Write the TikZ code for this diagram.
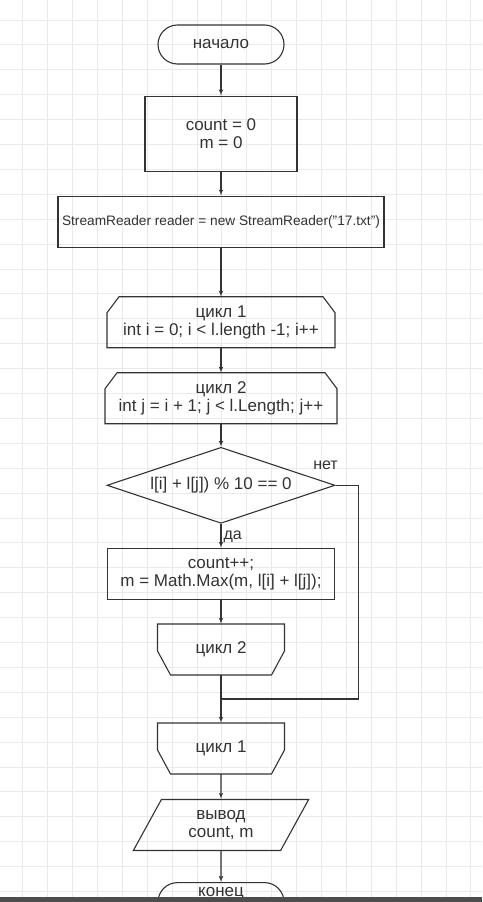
\documentclass[tikz,border=0pt]{standalone}
\usepackage{fontspec}
\setmainfont{Liberation Sans}
\usepackage{tikz}
\usetikzlibrary{shapes,arrows,positioning}
\definecolor{ink}{HTML}{333333}
\definecolor{gridline}{HTML}{EAEAEA}
\definecolor{bar}{HTML}{4D4D4D}
\tikzstyle{term} = [rectangle, draw, rounded corners=19.5pt, align=center,
    minimum width=126pt, minimum height=39pt, inner sep=0pt]
\tikzstyle{block} = [rectangle, draw, align=center, minimum height=51pt, inner sep=0pt]
\tikzstyle{cyclebox} = [rectangle, align=center, minimum height=51pt, inner sep=0pt, outer sep=0pt]
\tikzstyle{decision} = [diamond, draw, aspect=3, minimum width=228pt, minimum height=76pt, inner sep=0pt]
\tikzstyle{io} = [trapezium, trapezium left angle=62, trapezium right angle=118, trapezium stretches=true,
    draw, align=center, minimum width=176pt, minimum height=51pt, inner sep=0pt]
\tikzstyle{line} = [draw, -latex']
\begin{document}
\begin{tikzpicture}[x=1pt, y=-1pt, color=ink, line width=1.1pt,
    font=\fontsize{17}{17.5}\selectfont]
      \useasboundingbox (0,0) rectangle (482,902);
      % grid paper
      \fill [white] (0,0) rectangle (482,902);
      \foreach \gx in {0,...,18}
        \draw [gridline, line width=1pt] ({22.7+24.9*\gx},0) -- ({22.7+24.9*\gx},902);
      \foreach \gy in {0,...,35}
        \draw [gridline, line width=1pt] (0,{20+24.9*\gy}) -- (482,{20+24.9*\gy});
      % blocks
      \node [term] (start) at (221,44.5) {начало};
      \node [block, minimum width=152pt, minimum height=75pt, below=31pt of start] (init) {count = 0\\m = 0};
      \node [block, minimum width=326pt, below=24pt of init, font=\fontsize{13.7}{16}\selectfont] (reader)
        {StreamReader reader = new StreamReader("17.txt")};
      \node [cyclebox, minimum width=228pt, below=49pt of reader] (cycle1) {цикл 1\\int i = 0; i < l.length -1; i++};
      \node [cyclebox, minimum width=232pt, below=25pt of cycle1] (cycle2) {цикл 2\\int j = i + 1; j < l.Length; j++};
      \node [decision, below=23pt of cycle2] (cond) {l[i] + l[j]) \% 10 == 0};
      \node [block, minimum width=227pt, below=24pt of cond] (body) {count++;\\m = Math.Max(m, l[i] + l[j]);};
      \node [cyclebox, minimum width=127pt, below=24pt of body] (end2) {цикл 2};
      \coordinate [below=24pt of end2] (join);
      \node [cyclebox, minimum width=127pt, below=48pt of end2] (end1) {цикл 1};
      \node [io, below=25pt of end1] (output) {вывод\\count, m};
      \node [term, text depth=20pt, below=31pt of output] (stop) {конец};
      % loop outlines
      \draw (cycle1.south west) -- ([yshift=-16pt]cycle1.north west) -- ([xshift=12pt]cycle1.north west)
        -- ([xshift=-12pt]cycle1.north east) -- ([yshift=-16pt]cycle1.north east) -- (cycle1.south east) -- cycle;
      \draw (cycle2.south west) -- ([yshift=-16pt]cycle2.north west) -- ([xshift=12pt]cycle2.north west)
        -- ([xshift=-12pt]cycle2.north east) -- ([yshift=-16pt]cycle2.north east) -- (cycle2.south east) -- cycle;
      \draw (end2.north west) -- ([yshift=24pt]end2.south west) -- ([xshift=13pt]end2.south west)
        -- ([xshift=-13pt]end2.south east) -- ([yshift=24pt]end2.south east) -- (end2.north east) -- cycle;
      \draw (end1.north west) -- ([yshift=24pt]end1.south west) -- ([xshift=13pt]end1.south west)
        -- ([xshift=-13pt]end1.south east) -- ([yshift=24pt]end1.south east) -- (end1.north east) -- cycle;
      % Draw edges
      \path [line] (start) -- (init);
      \path [line] (init) -- (reader);
      \path [line] (reader) -- (cycle1);
      \path [line] (cycle1) -- (cycle2);
      \path [line] (cycle2) -- (cond);
      \path [line] (cond) -- node [right, pos=0.55, inner sep=2pt, font=\fontsize{16}{16}\selectfont] {да} (body);
      \path [line] (body) -- (end2);
      \draw (cond.east) node [anchor=south, shift={(-10pt,15pt)}, inner sep=0pt, font=\fontsize{16}{16}\selectfont] {нет}
        -- ++(23,0) |- (join);
      \path [line] (end2) -- (end1);
      \path [line] (end1) -- (output);
      \path [line] (output) -- (stop);
      % window edge
      \fill [bar] (0,897) rectangle (482,902);
  \end{tikzpicture}
\end{document}
